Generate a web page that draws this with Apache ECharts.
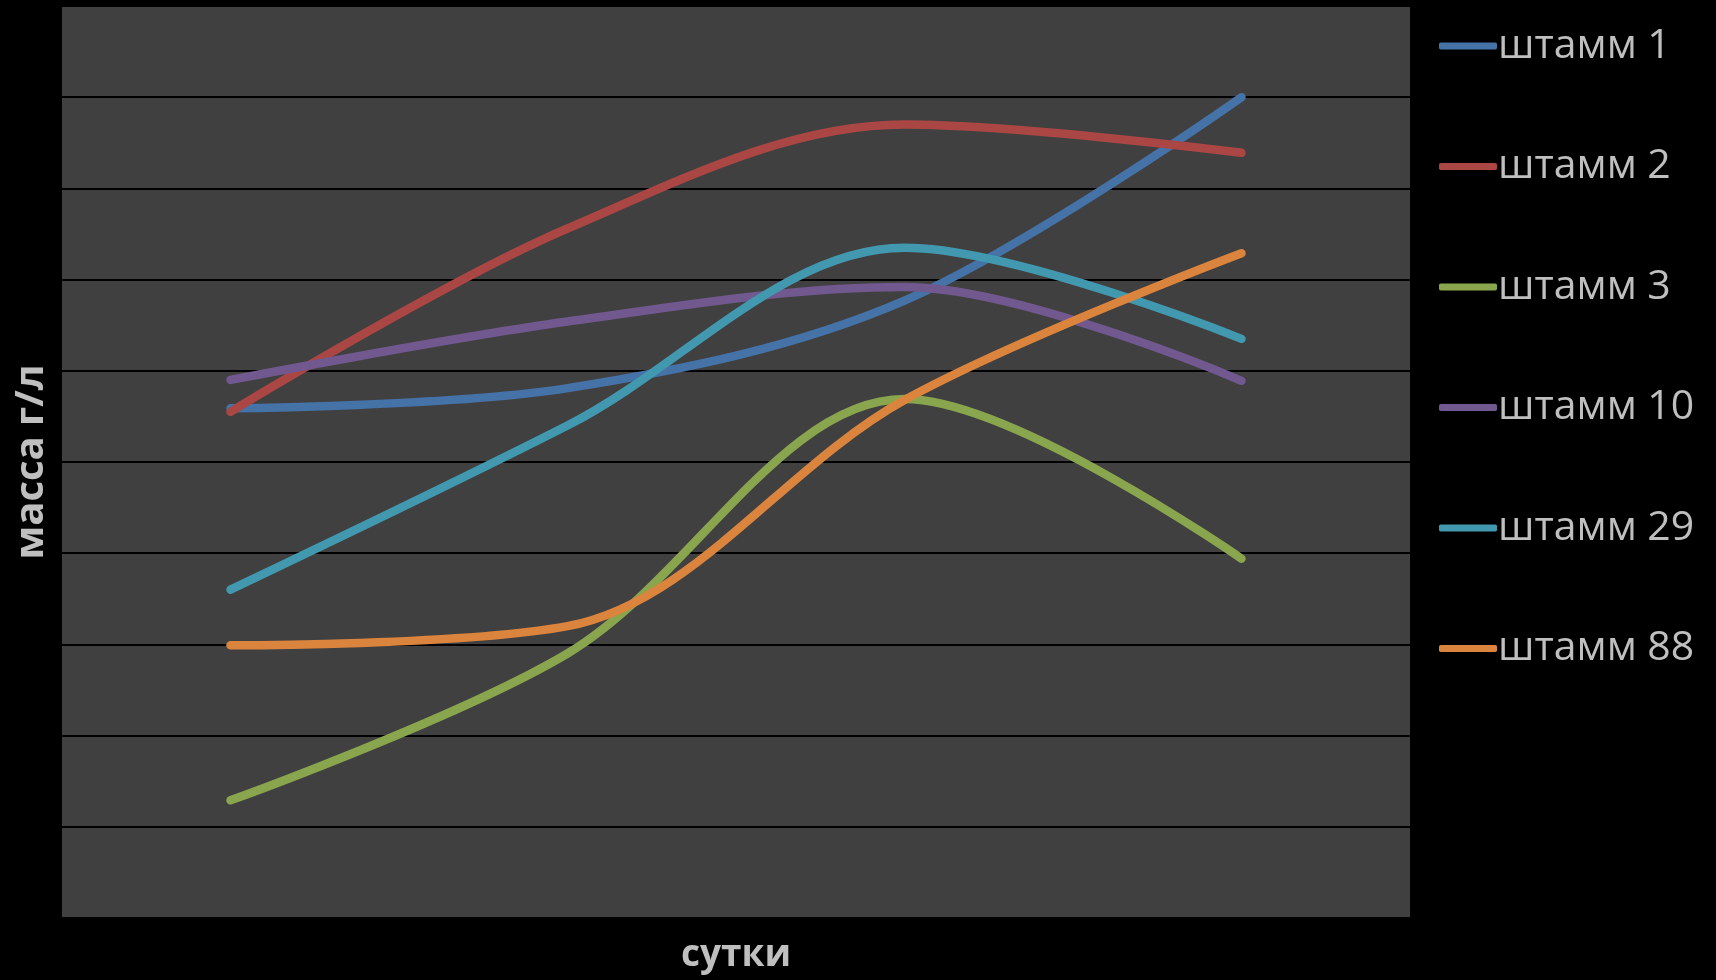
<!DOCTYPE html>
<html>
<head>
<meta charset="utf-8">
<title>масса г/л по суткам</title>
<script src="https://cdn.jsdelivr.net/npm/echarts@6/dist/echarts.min.js"></script>
<style>
  html, body { margin: 0; padding: 0; background: #000; }
  #chart { width: 1716px; height: 980px; }
</style>
</head>
<body>
<div id="chart"></div>
<script>
// штаммы: масса г/л по суткам
const DAYS = ['1', '2', '3', '4'];
const STRAIN_NAMES = ['штамм 1', 'штамм 2', 'штамм 3', 'штамм 10', 'штамм 29', 'штамм 88'];
const STRAIN_1 = [5.59, 5.81, 6.77, 9.00];
const STRAIN_2 = [5.55, 7.56, 8.70, 8.39];
const STRAIN_3 = [1.29, 2.90, 5.69, 3.94];
const STRAIN_10 = [5.90, 6.54, 6.92, 5.89];
const STRAIN_29 = [3.60, 5.40, 7.35, 6.35];
const STRAIN_88 = [2.99, 3.20, 5.68, 7.29];
const Y_MIN = 0;
const Y_MAX = 10;
const Y_STEP = 1;

const COLORS = ['#4572A7', '#AA4643', '#89A54E', '#71588F', '#4198AF', '#DB843D'];
const TEXT = '#bfbfbf';
const FONT = '"Open Sans", "DejaVu Sans", sans-serif';

const SERIES_DATA = [STRAIN_1, STRAIN_2, STRAIN_3, STRAIN_10, STRAIN_29, STRAIN_88];

const chart = echarts.init(document.getElementById('chart'), null, { renderer: 'canvas' });

chart.setOption({
  backgroundColor: '#000',
  animation: false,
  color: COLORS,
  grid: {
    left: 62, top: 6, right: 306, bottom: 62,
    show: true, backgroundColor: '#404040', borderWidth: 0,
  },
  legend: {
    orient: 'vertical',
    left: 1434,
    top: 20,
    itemGap: 78.5,
    itemWidth: 58,
    itemHeight: 7,
    icon: 'roundRect',
    data: STRAIN_NAMES,
    textStyle: { color: TEXT, fontSize: 41, fontFamily: FONT, lineHeight: 42, padding: [0, 0, 0, -4] },
  },
  xAxis: {
    type: 'category',
    data: DAYS,
    boundaryGap: true,
    name: 'сутки',
    nameLocation: 'middle',
    nameGap: 19,
    nameTextStyle: { color: TEXT, fontSize: 37, fontWeight: 'bold', fontFamily: FONT, verticalAlign: 'top' },
    axisLine: { show: false },
    axisTick: { show: false },
    axisLabel: { show: false },
  },
  yAxis: {
    type: 'value',
    min: Y_MIN,
    max: Y_MAX,
    interval: Y_STEP,
    name: 'масса г/л',
    nameLocation: 'middle',
    nameGap: 10,
    nameTextStyle: { color: TEXT, fontSize: 40, fontWeight: 'bold', fontFamily: FONT },
    axisLine: { show: false },
    axisTick: { show: false },
    axisLabel: { show: false },
    splitLine: { show: true, lineStyle: { color: '#000', width: 2 } },
  },
  series: STRAIN_NAMES.map((name, i) => ({
    name,
    type: 'line',
    data: SERIES_DATA[i],
    smooth: 0.34,
    symbol: 'none',
    lineStyle: { width: 8.5, cap: 'round', join: 'round', color: COLORS[i] },
    itemStyle: { color: COLORS[i] },
  })),
});
</script>
</body>
</html>
